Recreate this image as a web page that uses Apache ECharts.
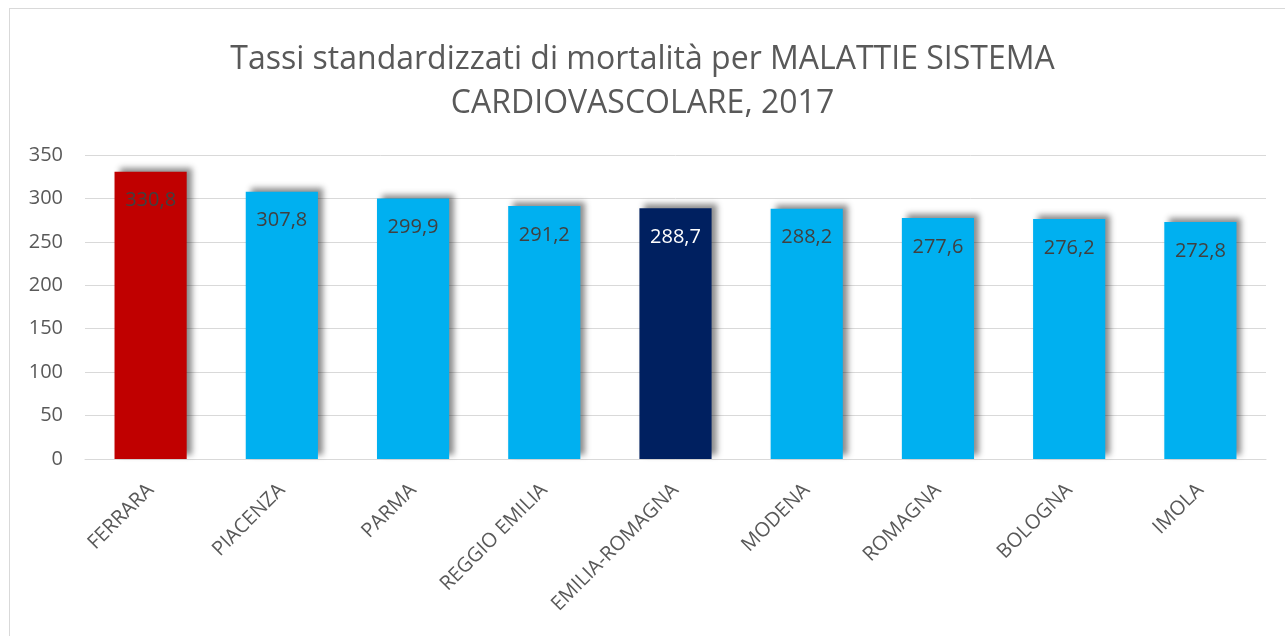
<!DOCTYPE html>
<html>
<head>
<meta charset="utf-8">
<script src="https://cdn.jsdelivr.net/npm/echarts@6/dist/echarts.min.js"></script>
<style>
  html, body { margin: 0; padding: 0; background: #ffffff; }
  #frame { position: absolute; left: 9px; top: 8px; width: 1290px; height: 650px; border: 1px solid #d9d9d9; box-sizing: border-box; }
  #chart { position: absolute; left: 0; top: 0; width: 1285px; height: 636px; }
</style>
</head>
<body>
<div id="frame"></div>
<div id="chart"></div>
<script>
const categories = ["FERRARA", "PIACENZA", "PARMA", "REGGIO EMILIA", "EMILIA-ROMAGNA", "MODENA", "ROMAGNA", "BOLOGNA", "IMOLA"];
const values = [330.8, 307.8, 299.9, 291.2, 288.7, 288.2, 277.6, 276.2, 272.8];
const barColors = ["#C00000", "#00B0F0", "#00B0F0", "#00B0F0", "#002060", "#00B0F0", "#00B0F0", "#00B0F0", "#00B0F0"];
const labelColors = ["#404040", "#404040", "#404040", "#404040", "#ffffff", "#404040", "#404040", "#404040", "#404040"];
const titleText = "Tassi standardizzati di mortalità per MALATTIE SISTEMA\nCARDIOVASCOLARE, 2017";

const chart = echarts.init(document.getElementById('chart'), null, { renderer: 'canvas' });
const font = '"Open Sans", "Liberation Sans", sans-serif';

chart.setOption({
  animation: false,
  backgroundColor: 'transparent',
  title: {
    text: titleText,
    left: 'center',
    top: 33,
    textStyle: {
      fontFamily: font,
      fontSize: 32,
      fontWeight: 'normal',
      color: '#595959',
      lineHeight: 44
    }
  },
  grid: { left: 85, right: 19, top: 155, bottom: 177, containLabel: false },
  xAxis: {
    type: 'category',
    data: categories,
    axisLine: { show: true, lineStyle: { color: '#d9d9d9', width: 1 } },
    axisTick: { show: false },
    axisLabel: {
      rotate: 45,
      margin: 28,
      fontFamily: font,
      fontSize: 20,
      color: '#595959',
      interval: 0
    }
  },
  yAxis: {
    type: 'value',
    min: 0,
    max: 350,
    interval: 50,
    axisLine: { show: false },
    axisTick: { show: false },
    splitLine: { lineStyle: { color: '#d9d9d9', width: 1 } },
    axisLabel: {
      margin: 22,
      fontFamily: font,
      fontSize: 20,
      color: '#595959'
    }
  },
  series: [{
    type: 'bar',
    barWidth: '55%',
    data: values.map((v, i) => ({
      value: v,
      itemStyle: {
        color: barColors[i],
        shadowColor: 'rgba(0,0,0,0.45)',
        shadowBlur: 6,
        shadowOffsetX: 5,
        shadowOffsetY: -4
      },
      label: { color: labelColors[i] }
    })),
    label: {
      show: true,
      position: 'insideTop',
      distance: 19,
      fontFamily: font,
      fontSize: 20,
      formatter: p => String(p.value.toFixed(1)).replace('.', ',')
    }
  }]
});
</script>
</body>
</html>
